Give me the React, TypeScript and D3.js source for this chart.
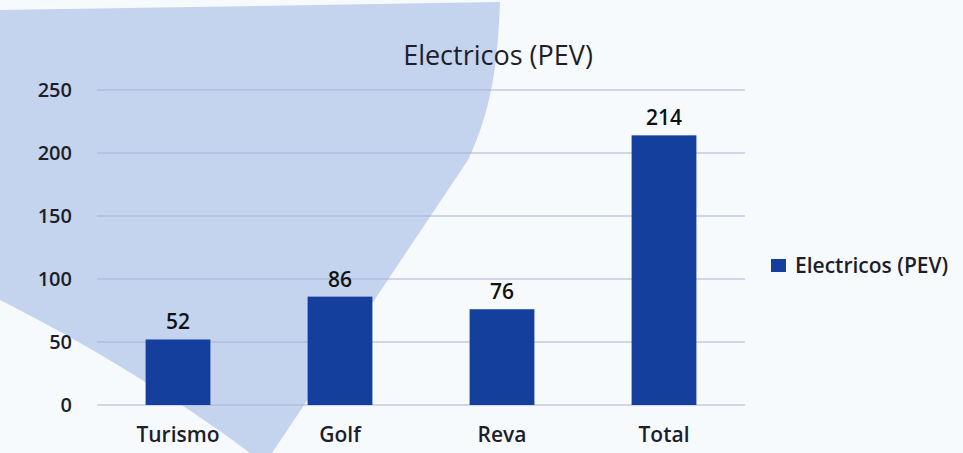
import * as d3 from "d3";

const CATEGORIES = ["Turismo", "Golf", "Reva", "Total"];
const VALUES = [52, 86, 76, 214];
const TICKS = [0, 50, 100, 150, 200, 250];
const TITLE = "Electricos (PEV)";
const SERIES = "Electricos (PEV)";

const W = 963;
const H = 453;
const LEFT = 97;
const RIGHT = 745;
const TOP = 90;
const BOTTOM = 405;
const BAR = "#143f9c";
const FONT = "'Open Sans', 'DejaVu Sans', sans-serif";

export default function App() {
  const x = d3.scaleBand<string>().domain(CATEGORIES).range([LEFT, RIGHT]).paddingInner(0.6).paddingOuter(0.3);
  const y = d3.scaleLinear().domain([0, 250]).range([BOTTOM, TOP]);

  // background swoosh (scanned slide)
  const swoosh = "M0,10 L500,2 C498,60 492,110 468,160 L272,453 L250,453 C180,400 80,340 0,300 Z";

  return (
    <svg width={W} height={H} style={{ position: "absolute", left: 0, top: 0 }}>
      <rect width={W} height={H} fill="#f7fafd" />
      <path d={swoosh} fill="#c4d3ee" />

      <text x={498} y={65} textAnchor="middle" fontFamily={FONT} fontSize={27} fontWeight={500} fill="#1e1e2a">
        {TITLE}
      </text>

      {TICKS.map((t) => (
        <g key={t}>
          <line x1={LEFT} x2={RIGHT} y1={y(t)} y2={y(t)} stroke="#a9b1d2" strokeWidth={1.2} />
          <text x={72} y={y(t) + 7} textAnchor="end" fontFamily={FONT} fontSize={20} fontWeight={600} fill="#1e1e2a">
            {t}
          </text>
        </g>
      ))}

      {CATEGORIES.map((c, i) => {
        const bx = x(c)!;
        const bw = x.bandwidth();
        return (
          <g key={c}>
            <rect x={bx} y={y(VALUES[i])} width={bw} height={BOTTOM - y(VALUES[i])} fill={BAR} />
            <text x={bx + bw / 2} y={y(VALUES[i]) - 10} textAnchor="middle" fontFamily={FONT} fontSize={21} fontWeight={600} fill="#111">
              {VALUES[i]}
            </text>
            <text x={bx + bw / 2} y={442} textAnchor="middle" fontFamily={FONT} fontSize={21} fontWeight={600} fill="#1e1e2a">
              {c}
            </text>
          </g>
        );
      })}

      <rect x={771} y={259} width={15} height={13} fill={BAR} />
      <text x={795} y={273} fontFamily={FONT} fontSize={21} fontWeight={600} fill="#1e1e2a">
        {SERIES}
      </text>
    </svg>
  );
}
